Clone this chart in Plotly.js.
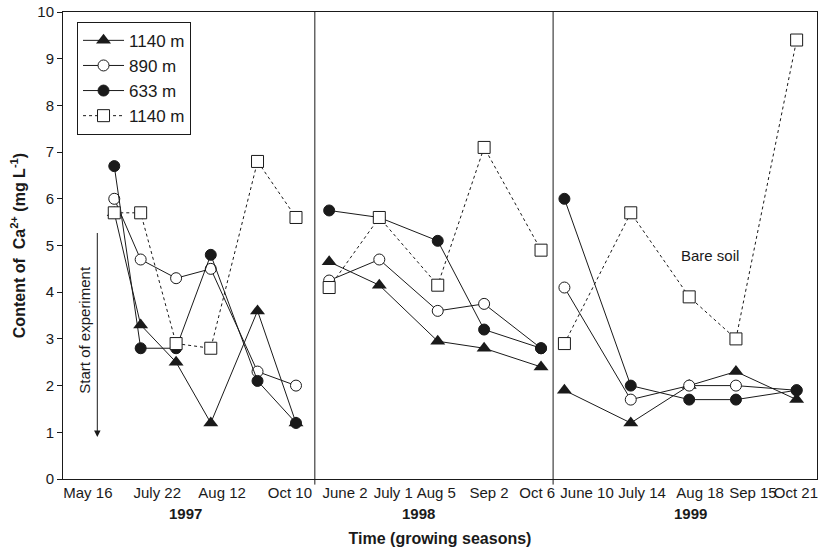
<!DOCTYPE html>
<html>
<head>
<meta charset="utf-8">
<script src="https://cdn.plot.ly/plotly-3.0.1.min.js"></script>
<style>html,body{margin:0;padding:0;background:#fff;}#chart{width:819px;height:556px;}</style>
</head>
<body>
<div id="chart"></div>
<script>
// Sampling positions on a 0-100 relative time scale (seasons compressed)
const x1997 = [6.8, 10.3, 15.0, 19.6, 25.8, 30.9];
const x1998 = [35.3, 41.95, 49.7, 55.85, 63.4];
const x1999 = [66.5, 75.3, 83.05, 89.25, 97.3];

// Ca2+ content (mg L-1)
const tri1140_1997 = [5.7, 3.3, 2.5, 1.2, 3.6, 1.2];
const tri1140_1998 = [4.65, 4.15, 2.95, 2.8, 2.4];
const tri1140_1999 = [1.9, 1.2, 2.0, 2.3, 1.7];

const open890_1997 = [6.0, 4.7, 4.3, 4.5, 2.3, 2.0];
const open890_1998 = [4.25, 4.7, 3.6, 3.75, 2.8];
const open890_1999 = [4.1, 1.7, 2.0, 2.0, 1.9];

const fill633_1997 = [6.7, 2.8, 2.8, 4.8, 2.1, 1.2];
const fill633_1998 = [5.75, 5.6, 5.1, 3.2, 2.8];
const fill633_1999 = [6.0, 2.0, 1.7, 1.7, 1.9];

const sq1140_1997 = [5.7, 5.7, 2.9, 2.8, 6.8, 5.6];
const sq1140_1998 = [4.1, 5.6, 4.15, 7.1, 4.9];
const sq1140_1999 = [2.9, 5.7, 3.9, 3.0, 9.4];

const seriesNames = ["1140 m", "890 m", "633 m", "1140 m"];

const tickPos = [3.3, 12.5, 21.1, 30.1, 37.4, 43.8, 49.5, 56.5, 62.9, 69.5, 76.8, 84.5, 91.5, 97.2];
const tickText = ["May 16", "July 22", "Aug 12", "Oct 10", "June 2", "July 1", "Aug 5", "Sep 2", "Oct 6", "June 10", "July 14", "Aug 18", "Sep 15", "Oct 21"];

const seasonDividers = [33.4, 65.0];
const yearLabels = ["1997", "1998", "1999"];
const yearPos = [16.2, 47.2, 83.2];

function joinX() { return x1997.concat([null], x1998, [null], x1999); }
function joinY(a, b, c) { return a.concat([null], b, [null], c); }

const FONT = "Liberation Sans, Arial, sans-serif";
const INK = "#1a1a1a";

const traces = [
  {
    x: joinX(), y: joinY(tri1140_1997, tri1140_1998, tri1140_1999),
    name: seriesNames[0], mode: "lines+markers", connectgaps: false,
    line: {color: INK, width: 1},
    marker: {symbol: "triangle-up", size: 13, color: INK, line: {color: INK, width: 0}}
  },
  {
    x: joinX(), y: joinY(open890_1997, open890_1998, open890_1999),
    name: seriesNames[1], mode: "lines+markers", connectgaps: false,
    line: {color: INK, width: 1},
    marker: {symbol: "circle", size: 11, color: "#ffffff", line: {color: INK, width: 1}}
  },
  {
    x: joinX(), y: joinY(fill633_1997, fill633_1998, fill633_1999),
    name: seriesNames[2], mode: "lines+markers", connectgaps: false,
    line: {color: INK, width: 1},
    marker: {symbol: "circle", size: 11, color: INK, line: {color: INK, width: 1}}
  },
  {
    x: joinX(), y: joinY(sq1140_1997, sq1140_1998, sq1140_1999),
    name: seriesNames[3], mode: "lines+markers", connectgaps: false,
    line: {color: INK, width: 1, dash: "dot"},
    marker: {symbol: "square", size: 12, color: "#ffffff", line: {color: INK, width: 1}}
  }
];

const shapes = seasonDividers.map(v => ({
  type: "line", xref: "x", yref: "paper", x0: v, x1: v, y0: -0.012, y1: 1,
  line: {color: INK, width: 1}
}));

const annotations = yearLabels.map((t, i) => ({
  text: "<b>" + t + "</b>", x: yearPos[i], xref: "x", y: -0.073, yref: "paper",
  showarrow: false, xanchor: "center", yanchor: "middle",
  font: {family: FONT, size: 15, color: INK}
}));
annotations.push({
  text: "", x: 4.55, y: 0.9, xref: "x", yref: "y",
  ax: 4.55, ay: 5.3, axref: "x", ayref: "y",
  showarrow: true, arrowhead: 2, arrowsize: 1.3, arrowwidth: 1, arrowcolor: INK
});
annotations.push({
  text: "Start of experiment", x: 2.8, y: 3.2, xref: "x", yref: "y",
  textangle: -90, showarrow: false, xanchor: "center", yanchor: "middle",
  font: {family: FONT, size: 15, color: INK}
});
annotations.push({
  text: "Bare soil", x: 85.8, y: 4.78, xref: "x", yref: "y",
  showarrow: false, xanchor: "center", yanchor: "middle",
  font: {family: FONT, size: 15, color: INK}
});

const layout = {
  width: 819, height: 556,
  margin: {l: 63, r: 2, t: 12, b: 77},
  paper_bgcolor: "#ffffff", plot_bgcolor: "#ffffff",
  font: {family: FONT, size: 15, color: INK},
  showlegend: true,
  legend: {
    x: 0.0186, y: 0.979, xanchor: "left", yanchor: "top",
    bgcolor: "#ffffff", bordercolor: INK, borderwidth: 1, itemwidth: 41,
    font: {family: FONT, size: 17, color: INK}, tracegroupgap: 0
  },
  xaxis: {
    range: [0, 100], showgrid: false, zeroline: false,
    showline: true, linecolor: INK, linewidth: 1, mirror: true,
    tickmode: "array", tickvals: tickPos, ticktext: tickText, ticks: "",
    tickangle: 0, ticklabeloverflow: "allow",
    tickfont: {family: FONT, size: 15, color: INK},
    title: {text: "<b>Time (growing seasons)</b>", font: {family: FONT, size: 16, color: INK}, standoff: 32}
  },
  yaxis: {
    range: [0, 10], dtick: 1, showgrid: false, zeroline: false,
    showline: true, linecolor: INK, linewidth: 1, mirror: true,
    ticks: "outside", ticklen: 5, tickcolor: INK,
    tickfont: {family: FONT, size: 15, color: INK},
    title: {text: "<b>Content of  Ca<sup>2+</sup> (mg L<sup>-1</sup>)</b>", font: {family: FONT, size: 16, color: INK}, standoff: 7}
  },
  shapes: shapes,
  annotations: annotations
};

Plotly.newPlot("chart", traces, layout, {displayModeBar: false, staticPlot: true});
</script>
</body>
</html>
